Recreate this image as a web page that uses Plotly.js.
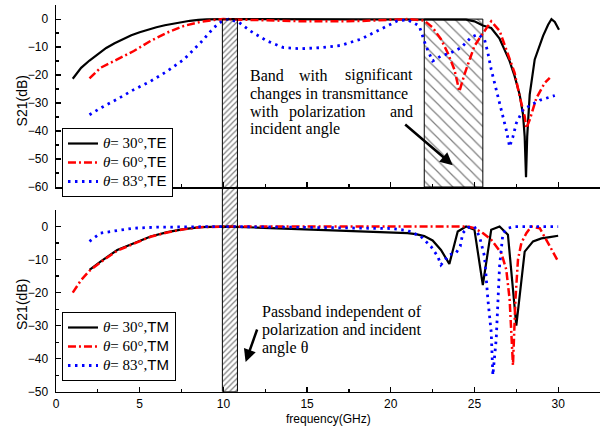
<!DOCTYPE html>
<html><head><meta charset="utf-8">
<script src="https://cdn.plot.ly/plotly-3.0.1.min.js"></script>
<style>html,body{margin:0;padding:0;background:#fff}#chart{width:605px;height:426px}</style>
</head><body><div id="chart"></div>
<script>
// ---------- data ----------
const angles = [30, 60, 83];
const modes = ['TE', 'TM'];

// top panel (TE)
const fTE30 = [1, 1.5, 2, 2.5, 3, 3.5, 4, 4.5, 5, 5.5, 6, 6.5, 7, 7.5, 8, 8.5, 9, 10, 12, 14, 16, 18, 20, 22, 24, 24.5, 25, 25.5, 26, 26.5, 26.8, 27.1, 27.4, 27.7, 27.9, 28.0, 28.08, 28.15, 28.3, 28.6, 29.1, 29.4, 29.6, 29.8, 30.05];
const sTE30 = [-21.3, -17.4, -14.8, -12.4, -10.3, -8.6, -7.1, -5.8, -4.7, -3.7, -2.9, -2.2, -1.6, -1.0, -0.6, -0.3, -0.1, 0, 0, 0, 0, 0, 0, 0, 0, -0.2, -0.8, -2.3, -3.2, -7, -11, -15, -20.4, -27, -34, -42, -56.5, -42, -27, -14.4, -6, -2, 0, -1, -3.8];

const fTE60 = [2, 2.66, 3.66, 4.65, 5.65, 6.65, 7.65, 8.64, 9.44, 10, 11, 12, 13, 14, 15, 16, 17, 18, 19, 20, 21, 22, 22.5, 23.0, 23.4, 23.8, 24.1, 24.4, 24.7, 25.0, 25.4, 25.7, 26.0, 26.5, 27.1, 27.4, 27.7, 28.0, 28.1, 28.3, 28.7, 29.2, 29.5];
const sTE60 = [-21.2, -17.4, -14.4, -11.4, -7.8, -4.8, -2.4, -1.0, -0.3, 0, -0.2, -0.4, -0.6, -0.8, -0.8, -0.8, -0.8, -0.7, -0.5, -0.2, 0, -0.5, -3.0, -7.2, -12, -18, -25.8, -19.8, -14.4, -9.6, -6, -3.6, -0.8, -4.2, -13.8, -19.2, -27.6, -34.8, -39, -36, -28.2, -22.8, -21];

const fTE83 = [2, 2.66, 3.66, 4.65, 5.65, 6.65, 7.64, 8.64, 9.44, 9.94, 10.3, 10.93, 11.6, 12.6, 13.6, 14.6, 15.8, 17.0, 18.2, 19.4, 20.4, 21.0, 21.7, 22.1, 22.5, 23.0, 23.6, 24.2, 24.8, 25.2, 25.6, 25.8, 26.0, 26.3, 26.6, 26.9, 27.1, 27.3, 27.5, 27.9, 28.4, 28.9, 29.8];
const sTE83 = [-34.2, -31.8, -28.6, -25.2, -22.2, -18.6, -14.4, -8.4, -3, -0.6, 0, -1.2, -4.2, -7.8, -10.2, -10.6, -10.2, -9.4, -7.2, -3.6, -0.6, -0.3, -2.4, -9.6, -15, -13.2, -12, -10.2, -6.5, -5.4, -7.2, -12, -18, -25.2, -32.4, -39.6, -45.6, -42, -37.2, -32.4, -30.6, -29, -27.3];

// bottom panel (TM)
const fTM30 = [2, 2.66, 3.66, 4.65, 5.65, 6.65, 7.64, 8.64, 10, 12, 14, 16, 18, 20, 21, 21.5, 22, 22.5, 23, 23.5, 24, 24.5, 25, 25.5, 26, 26.5, 27, 27.5, 28, 28.5, 29, 29.5, 30];
const sTM30 = [-13.1, -10.6, -7.1, -5.0, -3.0, -1.7, -0.8, -0.2, 0, -0.3, -0.7, -1.0, -1.3, -1.7, -2.0, -2.3, -2.9, -4.2, -7.1, -11.3, -1.5, 0, -1, -17.7, -1, 0, -2.5, -30, -7.6, -4.5, -3.6, -3.2, -2.8];

const fTM60 = [1, 1.5, 2, 2.66, 3.66, 4.65, 5.65, 6.65, 7.64, 8.64, 10, 12, 15, 20, 24, 24.6, 25, 25.5, 26.0, 26.6, 26.9, 27.1, 27.2, 27.3, 27.45, 27.6, 27.8, 28.1, 28.4, 28.9, 29.4, 30];
const sTM60 = [-20, -16.2, -13.4, -10.8, -7.3, -5.1, -3.1, -1.8, -0.8, -0.2, 0, 0, 0, 0, 0, 0, -0.5, -2, -4, -8, -13, -22, -32, -42, -22, -10, -5, -2, 0, -0.5, -5, -10.6];

const fTM83 = [2, 2.66, 3.66, 4.65, 6, 8, 10, 14, 18, 20, 21, 21.8, 22.4, 22.8, 23.0, 23.5, 23.9, 24.15, 24.3, 24.6, 25.0, 25.3, 25.6, 25.8, 26.0, 26.1, 26.3, 26.4, 26.5, 26.7, 27.0, 27.4, 30];
const sTM83 = [-4.5, -2.0, -1.2, -0.5, -0.2, 0, 0, -0.2, -0.4, -0.6, -1.2, -3, -6, -9, -11.6, -8.5, -8, -6, -2, -0.3, 0, -3, -9, -22, -32, -45, -34, -22, -12, -2, -0.5, 0, 0];

// highlighted bands (GHz)
const bandPass = [9.94, 10.84];
const bandChange = [22.0, 25.5];

// axis ranges
const xRange = [0, 32.5];
const yTopRange = [-60, 5];
const yBotRange = [-50, 5];
const xTicks = [0, 5, 10, 15, 20, 25, 30];

// ---------- layout helpers ----------
const domTop = [0.561, 0.988];
const domBot = [0.0805, 0.507];
const colors = ['black', 'rgb(255,0,0)', 'rgb(0,0,255)'];
const dashes = ['solid', '8px,3px,2px,3px', '2.5px,4.5px'];
const widths = [2.2, 2.5, 2.8];

function label(a, m) {
  return '<span style="font-size:15px"><i>θ</i>= ' + a + '°,<span style="font-family:Liberation Sans">' + m + '</span></span>';
}

const teSets = [[fTE30, sTE30], [fTE60, sTE60], [fTE83, sTE83]];
const tmSets = [[fTM30, sTM30], [fTM60, sTM60], [fTM83, sTM83]];

const traces = [];
// band with significant changes (top panel)
traces.push({
  type: 'bar', x: [(bandChange[0] + bandChange[1]) / 2], width: [bandChange[1] - bandChange[0]],
  base: [0], y: [yTopRange[0]], xaxis: 'x', yaxis: 'y', showlegend: false, hoverinfo: 'skip',
  marker: {color: 'rgba(0,0,0,0)', line: {color: 'black', width: 1},
    pattern: {shape: '\\', fgcolor: 'black', bgcolor: 'rgba(0,0,0,0)', size: 8, solidity: 0.15, fillmode: 'overlay'}}
});

teSets.forEach((s, i) => traces.push({
  type: 'scatter', mode: 'lines', x: s[0], y: s[1], xaxis: 'x', yaxis: 'y',
  name: label(angles[i], modes[0]), legend: 'legend',
  line: {color: colors[i], dash: dashes[i], width: widths[i]}
}));
tmSets.forEach((s, i) => traces.push({
  type: 'scatter', mode: 'lines', x: s[0], y: s[1], xaxis: 'x2', yaxis: 'y2',
  name: label(angles[i], modes[1]), legend: 'legend2',
  line: {color: colors[i], dash: dashes[i], width: widths[i]}
}));

// passband spanning both panels: overlay subplot in [0,1] units
const topZeroPaper = domTop[0] + (0 - yTopRange[0]) / (yTopRange[1] - yTopRange[0]) * (domTop[1] - domTop[0]);
const bandTopFrac = (topZeroPaper - domBot[0]) / (domTop[1] - domBot[0]);
traces.push({
  type: 'bar', x: [(bandPass[0] + bandPass[1]) / 2], width: [bandPass[1] - bandPass[0]],
  base: [0], y: [bandTopFrac], xaxis: 'x3', yaxis: 'y3', showlegend: false, hoverinfo: 'skip',
  marker: {color: 'rgba(0,0,0,0)', line: {color: 'black', width: 1},
    pattern: {shape: '/', fgcolor: 'black', bgcolor: 'rgba(0,0,0,0)', size: 4, solidity: 0.3, fillmode: 'overlay'}}
});

const tickFont = {family: 'Liberation Sans, Arial', size: 12, color: 'black'};
function xa(anchor, labels) {
  return {domain: [0, 1], anchor: anchor, range: xRange, showgrid: false, zeroline: false,
    showline: true, linecolor: 'black', linewidth: 1.5, ticks: 'inside', ticklen: 5, tickwidth: 1.2, tickcolor: 'black',
    tickvals: xTicks, showticklabels: labels, tickfont: tickFont, ticklabelstandoff: 0,
    minor: {dtick: 2.5, tick0: 0, ticks: 'inside', ticklen: 3, tickcolor: 'black', tickwidth: 1.2}};
}
function ya(dom, anchor, range) {
  return {domain: dom, anchor: anchor, range: range, showgrid: false, zeroline: false,
    showline: true, linecolor: 'black', linewidth: 1.5, ticks: 'inside', ticklen: 5, tickwidth: 1.2, tickcolor: 'black',
    dtick: 10, tick0: 0, tickfont: tickFont, ticklabelstandoff: 4,
    minor: {dtick: 5, tick0: 0, ticks: 'inside', ticklen: 3, tickcolor: 'black', tickwidth: 1.2}};
}

const serif = {family: 'Liberation Serif, Times New Roman', size: 16, color: 'black'};
const pad = 0.15; // annotation box padding in GHz
function txt(x, y, s, xref, yref, anchor) {
  const a = anchor || 'left';
  return {x: a === 'left' ? x - pad : x + pad, y: y, xref: xref, yref: yref, text: s, showarrow: false,
    xanchor: a, yanchor: 'middle', font: serif};
}

const annotations = [
  // top note (justified lines)
  txt(11.63, -20.1, 'Band', 'x', 'y'),
  txt(14.57, -20.1, 'with', 'x', 'y'),
  txt(21.32, -20.1, 'significant', 'x', 'y', 'right'),
  txt(11.63, -26.6, 'changes in transmittance', 'x', 'y'),
  txt(11.63, -33.1, 'with', 'x', 'y'),
  txt(13.97, -33.1, 'polarization', 'x', 'y'),
  txt(21.32, -33.1, 'and', 'x', 'y', 'right'),
  txt(11.63, -39.4, 'incident angle', 'x', 'y'),
  {x: 23.7, y: -52.2, xref: 'x', yref: 'y', text: '', showarrow: true, ax: -49, ay: -42,
   arrowhead: 2, arrowsize: 1, arrowwidth: 2.5, arrowcolor: 'black'},
  // bottom note
  txt(12.35, -25.8, 'Passband independent of', 'x2', 'y2'),
  txt(12.35, -31.3, 'polarization and incident', 'x2', 'y2'),
  txt(12.35, -36.8, 'angle θ', 'x2', 'y2'),
  {x: 11.33, y: -41, xref: 'x2', yref: 'y2', text: '', showarrow: true, ax: 12, ay: -34,
   arrowhead: 2, arrowsize: 1, arrowwidth: 2.5, arrowcolor: 'black'},
  // axis titles
  {x: -0.0625, y: 0.762, xref: 'paper', yref: 'paper', text: 'S21(dB)', textangle: -90, showarrow: false,
   xanchor: 'center', yanchor: 'middle', font: {family: 'Liberation Sans, Arial', size: 14, color: 'black'}},
  {x: -0.0625, y: 0.284, xref: 'paper', yref: 'paper', text: 'S21(dB)', textangle: -90, showarrow: false,
   xanchor: 'center', yanchor: 'middle', font: {family: 'Liberation Sans, Arial', size: 14, color: 'black'}},
  {x: 0.5, y: 0.0175, xref: 'paper', yref: 'paper', text: 'frequency(GHz)', showarrow: false,
   xanchor: 'center', yanchor: 'middle', font: {family: 'Liberation Sans, Arial', size: 12, color: 'black'}}
];

const legendBase = {xref: 'paper', yref: 'paper', x: 0.011, xanchor: 'left', yanchor: 'top',
  bgcolor: 'white', bordercolor: 'black', borderwidth: 1, itemwidth: 30, tracegroupgap: 0,
  font: {family: 'Liberation Serif, Times New Roman', size: 11, color: 'black'}};

const layout = {
  width: 605, height: 426,
  margin: {l: 56, r: 5, t: 0, b: 0},
  paper_bgcolor: 'white', plot_bgcolor: 'rgba(0,0,0,0)',
  showlegend: true,
  xaxis: xa('y', false),
  yaxis: ya(domTop, 'x', yTopRange),
  xaxis2: xa('y2', true),
  yaxis2: ya(domBot, 'x2', yBotRange),
  xaxis3: {domain: [0, 1], anchor: 'y3', range: xRange, visible: false},
  yaxis3: {domain: [domBot[0], domTop[1]], anchor: 'x3', range: [0, 1], visible: false},
  legend: Object.assign({}, legendBase, {y: 0.6995}),
  legend2: Object.assign({}, legendBase, {y: 0.2676}),
  annotations: annotations,
  barmode: 'overlay'
};

Plotly.newPlot('chart', traces, layout, {staticPlot: true, displayModeBar: false});
</script>
</body></html>
